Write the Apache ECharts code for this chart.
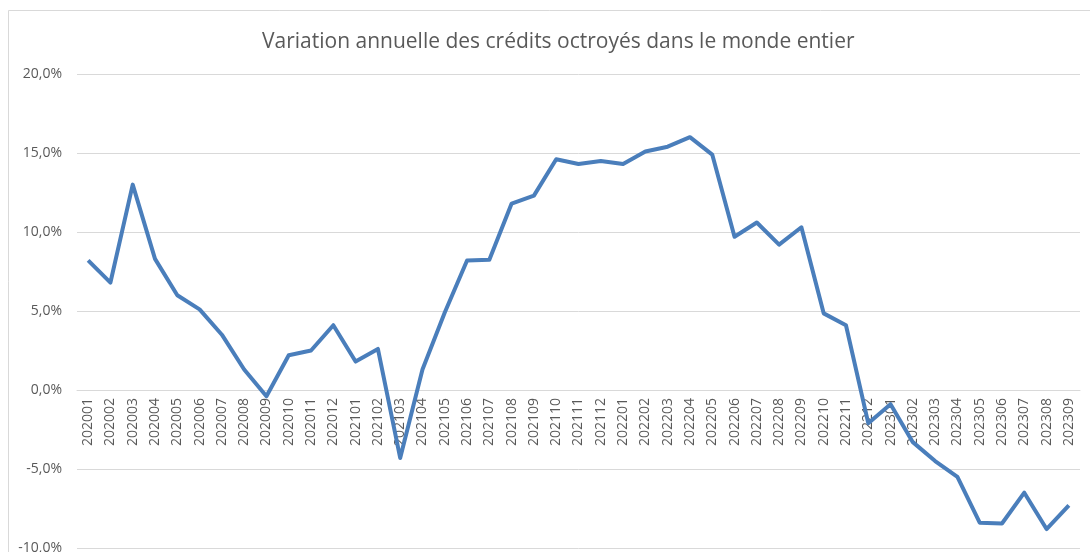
<!DOCTYPE html>
<html>
<head>
<meta charset="utf-8">
<script src="https://cdn.jsdelivr.net/npm/echarts@6/dist/echarts.min.js"></script>
<style>
  html, body { margin: 0; padding: 0; background: #fff; }
  #chart { width: 1090px; height: 552px; }
</style>
</head>
<body>
<div id="chart"></div>
<script>
const months = [
  '202001', '202002', '202003', '202004', '202005', '202006', '202007', '202008', '202009', '202010', '202011', '202012',
  '202101', '202102', '202103', '202104', '202105', '202106', '202107', '202108', '202109', '202110', '202111', '202112',
  '202201', '202202', '202203', '202204', '202205', '202206', '202207', '202208', '202209', '202210', '202211', '202212',
  '202301', '202302', '202303', '202304', '202305', '202306', '202307', '202308', '202309'
];
// variation annuelle en %
const variation = [
  8.2, 6.8, 13.0, 8.3, 6.0, 5.1, 3.5, 1.3, -0.4, 2.2, 2.5, 4.1,
  1.8, 2.6, -4.3, 1.3, 4.9, 8.2, 8.25, 11.8, 12.3, 14.6, 14.3, 14.5,
  14.3, 15.1, 15.4, 16.0, 14.9, 9.7, 10.6, 9.2, 10.3, 4.85, 4.1, -2.1,
  -0.9, -3.3, -4.5, -5.5, -8.4, -8.45, -6.5, -8.8, -7.3
];
const yMin = -10;
const yMax = 20;

const chart = echarts.init(document.getElementById('chart'));
const gray = '#595959';

chart.setOption({
  animation: false,
  backgroundColor: '#fff',
  title: {
    text: 'Variation annuelle des crédits octroyés dans le monde entier',
    left: 257,
    top: 27,
    textStyle: {
      fontFamily: 'Open Sans',
      fontSize: 21,
      fontWeight: 'normal',
      color: gray
    }
  },
  graphic: [{
    type: 'rect',
    shape: { x: 8.5, y: 10.5, width: 1200, height: 1000 },
    style: { fill: null, stroke: '#d9d9d9', lineWidth: 1 },
    silent: true
  }],
  grid: {
    left: 77, right: 10, top: 74, bottom: 4,
    containLabel: false,
    outerBoundsMode: 'none'
  },
  xAxis: {
    type: 'category',
    data: months,
    boundaryGap: true,
    axisLine: { onZero: false, lineStyle: { color: '#d9d9d9', width: 1 } },
    axisTick: { show: false },
    axisLabel: {
      rotate: 90,
      interval: 0,
      margin: 8,
      color: gray,
      fontFamily: 'Open Sans',
      fontSize: 14
    }
  },
  yAxis: {
    type: 'value',
    min: yMin,
    max: yMax,
    interval: 5,
    axisLine: { show: false },
    axisTick: { show: false },
    axisLabel: {
      color: gray,
      fontFamily: 'Open Sans',
      fontSize: 14,
      margin: 15,
      formatter: function (v) { return v.toFixed(1).replace('.', ',') + '%'; }
    },
    splitLine: { lineStyle: { color: '#d9d9d9', width: 1 } }
  },
  series: [{
    type: 'line',
    data: variation,
    symbol: 'none',
    lineStyle: { color: '#4a7ebb', width: 4, join: 'round' }
  }]
});

// move the category axis (and its labels) up to the 0% line
const zeroY = chart.convertToPixel({ yAxisIndex: 0 }, 0);
const bottomY = chart.convertToPixel({ yAxisIndex: 0 }, yMin);
chart.setOption({ xAxis: { offset: -(bottomY - zeroY) } });
</script>
</body>
</html>
